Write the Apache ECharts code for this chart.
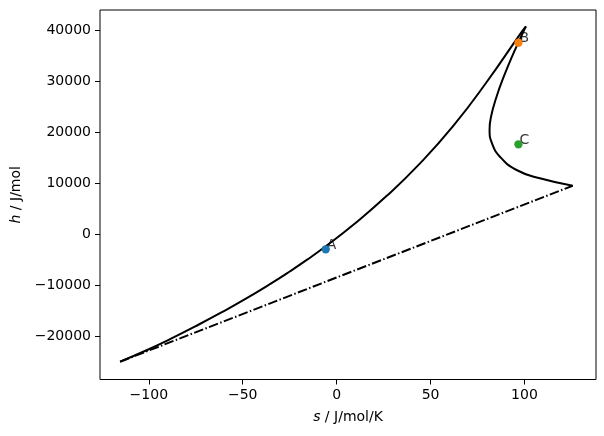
<!DOCTYPE html>
<html><head><meta charset="utf-8">
<script src="https://cdn.jsdelivr.net/npm/echarts@6/dist/echarts.min.js"></script>
<style>html,body{margin:0;padding:0;background:#fff}#c{width:604px;height:436px}</style>
</head><body><div id="c"></div>
<script>
// Left (lower) branch of envelope: s [J/mol/K], h [J/mol]
const leftS = [-115.3, -100, -88.7, -75, -62.1, -49, -35.5, -24.8, -15.9, -5.8, 8.9, 26.7, 44.4, 62.1, 79.9, 97.7, 100.8];
const leftH = [-24907, -22474, -20496, -17934, -15406, -12700, -9714, -7189, -4964, -2287, 1932, 7592, 13964, 21300, 29900, 39300, 40800];
// Right (upper) branch returning from the cusp
const rightS = [100.8, 96.96, 93.37, 88.98, 85.14, 82.2, 81.42, 82.73, 86.93, 95.8, 108.2, 125.7];
const rightH = [40800, 37801, 34862, 30943, 27023, 23104, 20498, 17891, 15265, 12659, 11033, 9583];
// Dash-dot straight line
const lineS = [-115.3, 125.7];
const lineH = [-24907, 9583];
// Marked points
const ptNames = ['A', 'B', 'C'];
const ptS = [-5.8, 96.8, 96.8];
const ptH = [-2880, 37600, 17700];
const ptColors = ['#1f77b4', '#ff7f0e', '#2ca02c'];
// Tick labels
const xTicks = [-100, -50, 0, 50, 100];
const yTicks = [-20000, -10000, 0, 10000, 20000, 30000, 40000];

const zip = (a, b) => a.map((v, i) => [v, b[i]]);
const fmt = v => (v < 0 ? '\u2212' + Math.abs(v) : String(v));
const FONT = 'DejaVu Sans';

const chart = echarts.init(document.getElementById('c'), null, {renderer: 'canvas'});
const series = [
  {type: 'line', data: zip(leftS, leftH), smooth: 0.5, showSymbol: false, symbol: 'none', z: 2,
   lineStyle: {color: '#000', width: 2}},
  {type: 'line', data: zip(rightS, rightH), smooth: 0.5, showSymbol: false, symbol: 'none', z: 2,
   lineStyle: {color: '#000', width: 2}},
  {type: 'line', data: zip(lineS, lineH), showSymbol: false, symbol: 'none', z: 2,
   lineStyle: {color: '#000', width: 2, type: [9.6, 2.4, 1.5, 2.4]}},
  {type: 'scatter', z: 3, symbolSize: 0, silent: true,
   data: ptNames.map((n, i) => ({value: [ptS[i], ptH[i]], name: n})),
   label: {show: true, formatter: p => p.name, position: [0, 0], align: 'left', verticalAlign: 'bottom',
           offset: [1, 3], color: '#000', fontSize: 14, fontFamily: FONT}},
  {type: 'scatter', z: 4, symbolSize: 8.3, silent: true,
   data: ptNames.map((n, i) => ({value: [ptS[i], ptH[i]], itemStyle: {color: ptColors[i], opacity: 1}}))}
];
chart.setOption({
  animation: false,
  backgroundColor: '#fff',
  grid: {left: 100, right: 8, top: 10, bottom: 56.5, show: true, borderColor: '#000', borderWidth: 1, backgroundColor: 'transparent'},
  xAxis: {
    type: 'value', min: -126.0, max: 138.1,
    name: '{i|s} / J/mol/K', nameLocation: 'middle', nameGap: 31,
    nameTextStyle: {color: '#000', fontSize: 14, fontFamily: FONT, rich: {i: {fontStyle: 'italic', fontSize: 14, fontFamily: FONT, color: '#000'}}},
    axisLine: {show: false, onZero: false},
    splitLine: {show: false},
    axisTick: {show: true, customValues: xTicks, length: 5, lineStyle: {color: '#000', width: 1}},
    axisLabel: {customValues: xTicks, formatter: fmt, color: '#000', fontSize: 14, fontFamily: FONT, margin: 9}
  },
  yAxis: {
    type: 'value', min: -28395, max: 44013,
    name: '{i|h} / J/mol', nameLocation: 'middle', nameGap: 76,
    nameTextStyle: {color: '#000', fontSize: 14, fontFamily: FONT, rich: {i: {fontStyle: 'italic', fontSize: 14, fontFamily: FONT, color: '#000'}}},
    axisLine: {show: false, onZero: false},
    splitLine: {show: false},
    axisTick: {show: true, customValues: yTicks, length: 5, lineStyle: {color: '#000', width: 1}},
    axisLabel: {customValues: yTicks, formatter: fmt, color: '#000', fontSize: 14, fontFamily: FONT, margin: 9}
  },
  series: series
});
</script>
</body></html>
